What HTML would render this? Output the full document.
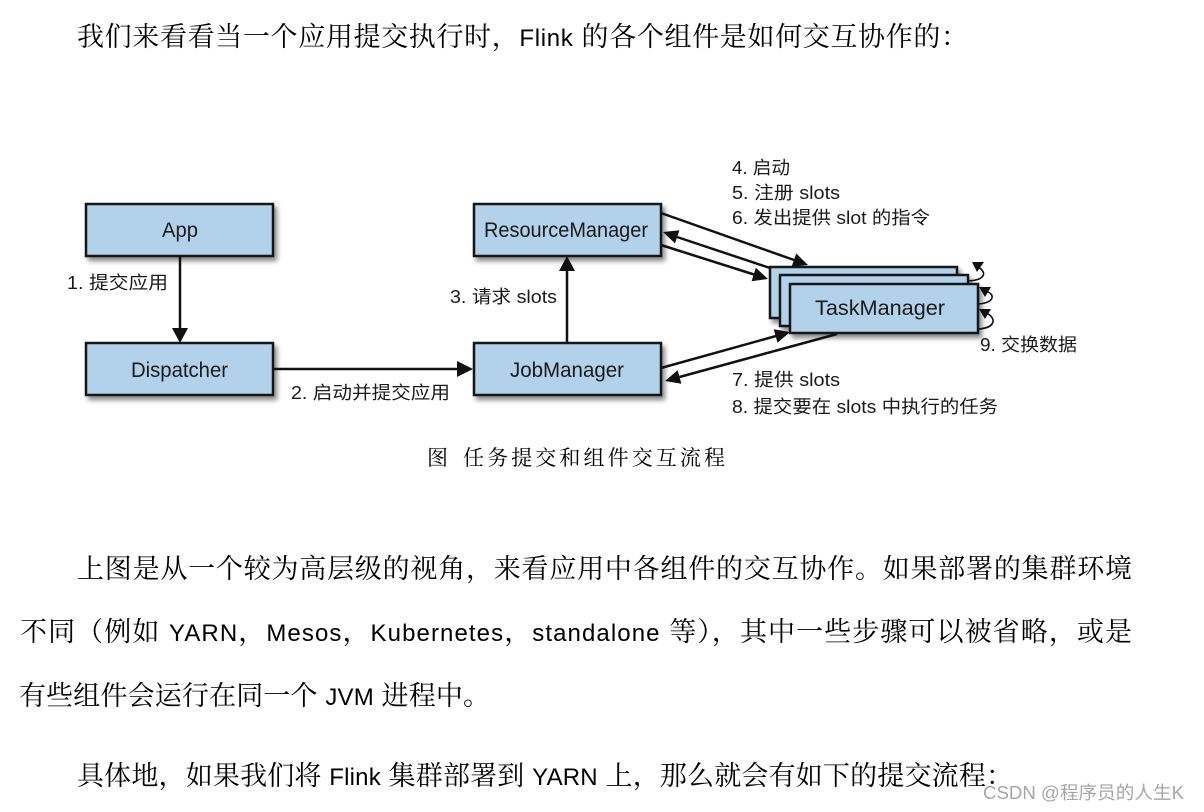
<!DOCTYPE html>
<html>
<head>
<meta charset="utf-8">
<style>
html,body{margin:0;padding:0;background:#fff;}
body{width:1204px;height:812px;overflow:hidden;position:relative;}
svg{position:absolute;left:0;top:0;}
.body{font-family:"Liberation Sans","Noto Serif CJK SC",serif;fill:#000;}
.dg{font-family:"Liberation Sans Narrow","Liberation Sans","Noto Sans CJK SC",sans-serif;fill:#1a1a1a;}
.cap{font-family:"Liberation Serif","Noto Serif CJK SC",serif;fill:#000;}
.wm{font-family:"Liberation Sans","Noto Sans CJK SC",sans-serif;fill:#a6a6a6;}
</style>
</head>
<body>
<svg width="1204" height="812" viewBox="0 0 1204 812" xmlns="http://www.w3.org/2000/svg">
  <defs>
    <filter id="sh" x="-10%" y="-20%" width="130%" height="160%">
      <feDropShadow dx="3" dy="4" stdDeviation="2.5" flood-color="#000" flood-opacity="0.45"/>
    </filter>
  </defs>

  <!-- Top line -->
  <text class="body" x="77" y="46" font-size="27" textLength="891" lengthAdjust="spacing">我们来看看当一个应用提交执行时，<tspan font-size="24">Flink</tspan> 的各个组件是如何交互协作的：</text>

  <!-- Boxes -->
  <g stroke="#141414" stroke-width="2.5" fill="#b1d2ea">
    <rect x="86" y="204" width="187" height="52" filter="url(#sh)"/>
    <rect x="86" y="343" width="187" height="52" filter="url(#sh)"/>
    <rect x="474" y="204" width="187" height="52" filter="url(#sh)"/>
    <rect x="474" y="343" width="187" height="52" filter="url(#sh)"/>
    <rect x="770" y="267" width="187" height="51" filter="url(#sh)"/>
    <rect x="780" y="275" width="188" height="51" filter="url(#sh)"/>
    <rect x="790" y="284" width="188" height="49" filter="url(#sh)"/>
  </g>

  <!-- Box labels -->
  <g class="dg" font-size="21">
    <text x="162" y="237" textLength="36" lengthAdjust="spacingAndGlyphs">App</text>
    <text x="131" y="377" textLength="97" lengthAdjust="spacingAndGlyphs">Dispatcher</text>
    <text x="484" y="237" textLength="164" lengthAdjust="spacingAndGlyphs">ResourceManager</text>
    <text x="510" y="377" textLength="114" lengthAdjust="spacingAndGlyphs">JobManager</text>
    <text x="815" y="315" textLength="130" lengthAdjust="spacingAndGlyphs">TaskManager</text>
  </g>

  <!-- Arrows -->
  <g stroke="#111" stroke-width="2.5" fill="none">
    <line x1="180" y1="256" x2="180" y2="332"/>
    <line x1="273" y1="369" x2="460" y2="369"/>
    <line x1="567" y1="343" x2="567" y2="268"/>
    <line x1="661" y1="213" x2="794" y2="260"/>
    <line x1="770" y1="268" x2="677" y2="237"/>
    <line x1="661" y1="245" x2="754" y2="274.5"/>
    <line x1="661" y1="368" x2="776" y2="336"/>
    <line x1="837" y1="334" x2="679.5" y2="377"/>
    <!-- loops -->
    <path d="M968 281 C 986 280, 987 272, 978 267" stroke-width="1.6"/>
    <path d="M978 304 C 996 303, 995 293, 985 291" stroke-width="1.6"/>
    <path d="M978 329 C 997 328, 996 317, 986 313" stroke-width="1.6"/>
  </g>
  <g fill="#111">
    <polygon points="180,343 172,328 188,328"/>
    <polygon points="473,369 457,361 457,377"/>
    <polygon points="567,256 559,271 575,271"/>
    <polygon points="808,265 791.6,266.6 796.2,253.4"/>
    <polygon points="663,232 679.4,230.2 675.0,243.4"/>
    <polygon points="768,279 751.6,281.2 755.8,267.8"/>
    <polygon points="790,332 777.5,342.7 773.7,329.3"/>
    <polygon points="665,381 677.6,370.3 681.4,383.8"/>
    <polygon points="972,262 984,262 977,272"/>
    <polygon points="979,287 991,287 985,297"/>
    <polygon points="979,309 991,309 985,319"/>
  </g>

  <!-- Connector labels -->
  <g class="dg" font-size="18">
    <text x="67" y="289" textLength="101" lengthAdjust="spacingAndGlyphs">1. 提交应用</text>
    <text x="291" y="399" textLength="159" lengthAdjust="spacingAndGlyphs">2. 启动并提交应用</text>
    <text x="450" y="303" textLength="107" lengthAdjust="spacingAndGlyphs">3. 请求 slots</text>
    <text x="732" y="174" textLength="58" lengthAdjust="spacingAndGlyphs">4. 启动</text>
    <text x="732" y="199" textLength="108" lengthAdjust="spacingAndGlyphs">5. 注册 slots</text>
    <text x="732" y="224" textLength="198" lengthAdjust="spacingAndGlyphs">6. 发出提供 slot 的指令</text>
    <text x="732" y="386" textLength="108" lengthAdjust="spacingAndGlyphs">7. 提供 slots</text>
    <text x="732" y="413" textLength="266" lengthAdjust="spacingAndGlyphs">8. 提交要在 slots 中执行的任务</text>
    <text x="980" y="351" textLength="97" lengthAdjust="spacingAndGlyphs">9. 交换数据</text>
  </g>

  <!-- Caption -->
  <g class="cap" font-size="21">
    <text x="427" y="465">图</text>
    <text x="463" y="465" textLength="262" lengthAdjust="spacing">任务提交和组件交互流程</text>
  </g>

  <!-- Body paragraphs -->
  <text class="body" x="77" y="578" font-size="27" textLength="1055" lengthAdjust="spacing">上图是从一个较为高层级的视角，来看应用中各组件的交互协作。如果部署的集群环境</text>
  <text class="body" x="20" y="641" font-size="27" textLength="1112" lengthAdjust="spacing">不同（例如 <tspan font-size="24">YARN</tspan>，<tspan font-size="24">Mesos</tspan>，<tspan font-size="24">Kubernetes</tspan>，<tspan font-size="24">standalone</tspan> 等），其中一些步骤可以被省略，或是</text>
  <text class="body" x="19" y="705" font-size="27" textLength="471" lengthAdjust="spacing">有些组件会运行在同一个 <tspan font-size="24">JVM</tspan> 进程中。</text>
  <text class="body" x="77" y="785" font-size="27" textLength="936" lengthAdjust="spacing">具体地，如果我们将 <tspan font-size="24">Flink</tspan> 集群部署到 <tspan font-size="24">YARN</tspan> 上，那么就会有如下的提交流程：</text>

  <!-- Watermark -->
  <text class="wm" x="983" y="799" font-size="18" textLength="201" lengthAdjust="spacingAndGlyphs">CSDN @程序员的人生K</text>
</svg>
</body>
</html>
